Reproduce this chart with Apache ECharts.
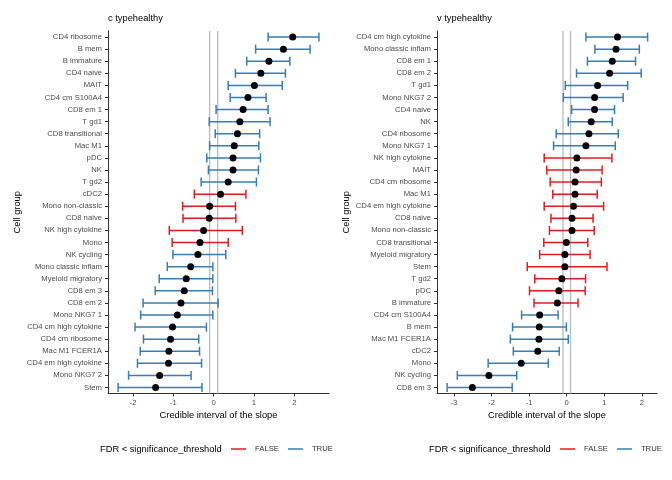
<!DOCTYPE html>
<html>
<head>
<meta charset="utf-8">
<script src="https://cdn.jsdelivr.net/npm/echarts@6/dist/echarts.min.js"></script>
<style>html,body{margin:0;padding:0;background:#fff}#chart{width:672px;height:480px}</style>
</head>
<body>
<div id="chart"></div>
<script>
// ---- Panel "c typehealthy" ----
const catsC = ["CD4 ribosome","B mem","B immature","CD4 naive","MAIT","CD4 cm S100A4","CD8 em 1","T gd1","CD8 transitional","Mac M1","pDC","NK","T gd2","cDC2","Mono non-classic","CD8 naive","NK high cytokine","Mono","NK cycling","Mono classic inflam","Myeloid migratory","CD8 em 3","CD8 em 2","Mono NKG7 1","CD4 cm high cytokine","CD4 cm ribosome","Mac M1 FCER1A","CD4 em high cytokine","Mono NKG7 2","Stem"];
const lowC  = [1.35,1.04,0.82,0.54,0.36,0.41,0.06,-0.11,0.04,-0.10,-0.17,-0.13,-0.31,-0.48,-0.77,-0.76,-1.10,-1.03,-1.01,-1.15,-1.35,-1.45,-1.75,-1.81,-1.95,-1.74,-1.82,-1.89,-2.11,-2.37];
const midC  = [1.96,1.73,1.37,1.17,1.01,0.85,0.73,0.65,0.59,0.51,0.48,0.48,0.36,0.17,-0.10,-0.11,-0.25,-0.34,-0.39,-0.57,-0.68,-0.73,-0.81,-0.90,-1.02,-1.07,-1.11,-1.12,-1.34,-1.44];
const highC = [2.61,2.39,1.89,1.78,1.70,1.30,1.35,1.40,1.14,1.12,1.16,1.11,1.06,0.80,0.54,0.55,0.71,0.36,0.30,-0.02,-0.02,-0.03,0.11,-0.02,-0.18,-0.37,-0.35,-0.30,-0.56,-0.29];
const sigC  = [true,true,true,true,true,true,true,true,true,true,true,true,true,false,false,false,false,false,true,true,true,true,true,true,true,true,true,true,true,true];

// ---- Panel "v typehealthy" ----
const catsV = ["CD4 cm high cytokine","Mono classic inflam","CD8 em 1","CD8 em 2","T gd1","Mono NKG7 2","CD4 naive","NK","CD4 ribosome","Mono NKG7 1","NK high cytokine","MAIT","CD4 cm ribosome","Mac M1","CD4 em high cytokine","CD8 naive","Mono non-classic","CD8 transitional","Myeloid migratory","Stem","T gd2","pDC","B immature","CD4 cm S100A4","B mem","Mac M1 FCER1A","cDC2","Mono","NK cycling","CD8 em 3"];
const lowV  = [0.51,0.75,0.55,0.26,-0.04,-0.09,0.13,0.04,-0.28,-0.35,-0.60,-0.53,-0.44,-0.37,-0.60,-0.42,-0.46,-0.61,-0.72,-1.05,-0.85,-0.99,-0.87,-1.20,-1.44,-1.50,-1.42,-2.09,-2.91,-3.18];
const midV  = [1.35,1.31,1.21,1.14,0.82,0.74,0.74,0.65,0.59,0.51,0.27,0.25,0.22,0.22,0.18,0.14,0.14,-0.01,-0.05,-0.05,-0.13,-0.21,-0.25,-0.72,-0.73,-0.74,-0.77,-1.21,-2.07,-2.51];
const highV = [2.15,1.93,1.83,1.98,1.62,1.50,1.27,1.21,1.37,1.29,1.20,0.94,0.92,0.81,0.98,0.70,0.73,0.56,0.62,1.07,0.50,0.49,0.30,-0.23,-0.01,0.04,-0.20,-0.49,-1.33,-1.45];
const sigV  = [true,true,true,true,true,true,true,true,true,true,false,false,false,false,false,false,false,false,false,false,false,false,false,true,true,true,true,true,true,true];

const refLines = [-0.1, 0.1];
const xTicksC = [-2,-1,0,1,2];
const xTicksV = [-3,-2,-1,0,1,2];

const RED = '#E41A1C', BLUE = '#377EB8', REF = '#BEBEBE';
const TICK_COLOR = '#4D4D4D';
const FONT = 'Liberation Sans, Arial, sans-serif';

function errRender(color) {
  return function (params, api) {
    const y = api.value(2);
    const a = api.coord([api.value(0), y]);
    const b = api.coord([api.value(1), y]);
    const h = 4.5;
    const st = { stroke: color, lineWidth: 1.5, fill: null };
    return { type: 'group', children: [
      { type: 'line', shape: { x1: a[0], y1: a[1], x2: b[0], y2: b[1] }, style: st },
      { type: 'line', shape: { x1: a[0], y1: a[1]-h, x2: a[0], y2: a[1]+h }, style: st },
      { type: 'line', shape: { x1: b[0], y1: b[1]-h, x2: b[0], y2: b[1]+h }, style: st }
    ]};
  };
}
function refRender(params, api) {
  const cs = params.coordSys;
  const x = api.coord([api.value(0), 0])[0];
  return { type: 'rect', shape: { x: x - 0.7, y: cs.y, width: 1.4, height: cs.height },
           style: { fill: REF, stroke: null } };
}

function panelSeries(idx, low, mid, high, sig) {
  const f = [], t = [], pts = [];
  for (let i = 0; i < low.length; i++) {
    (sig[i] ? t : f).push([low[i], high[i], i]);
    pts.push([mid[i], i]);
  }
  return [
    { type: 'custom', name: 'ref', xAxisIndex: idx, yAxisIndex: idx, renderItem: refRender,
      itemStyle: { color: REF }, data: refLines.map(v => [v]), encode: { x: 0 }, z: 1, silent: true },
    { type: 'custom', name: 'FALSE', xAxisIndex: idx, yAxisIndex: idx, renderItem: errRender(RED),
      itemStyle: { color: RED }, data: f, encode: { x: [0, 1], y: 2 }, z: 2 },
    { type: 'custom', name: 'TRUE', xAxisIndex: idx, yAxisIndex: idx, renderItem: errRender(BLUE),
      itemStyle: { color: BLUE }, data: t, encode: { x: [0, 1], y: 2 }, z: 2 },
    { type: 'scatter', name: 'pts', xAxisIndex: idx, yAxisIndex: idx, data: pts,
      symbolSize: 7, itemStyle: { color: '#000', opacity: 1 }, z: 3, silent: true }
  ];
}

function xAxis(idx, min, max, ticks) {
  return {
    type: 'value', gridIndex: idx, min: min, max: max,
    splitLine: { show: false },
    axisLine: { show: true, onZero: false, lineStyle: { color: '#333', width: 1 } },
    axisTick: { show: true, length: 3, customValues: ticks, lineStyle: { color: '#333' } },
    axisLabel: { customValues: ticks, color: TICK_COLOR, fontSize: 7.7, fontFamily: FONT, margin: 5 },
    name: 'Credible interval of the slope', nameLocation: 'middle', nameGap: 12,
    nameTextStyle: { color: '#000', fontSize: 9.3, fontFamily: FONT }
  };
}
function yAxis(idx, cats) {
  return {
    type: 'category', gridIndex: idx, data: cats, inverse: true,
    axisLine: { show: true, onZero: false, lineStyle: { color: '#333', width: 1 } },
    axisTick: { show: true, length: 3, alignWithLabel: true, lineStyle: { color: '#333' } },
    axisLabel: { color: TICK_COLOR, fontSize: 7.7, fontFamily: FONT, margin: 6, interval: 0 },
    splitLine: { show: false },
    name: 'Cell group', nameLocation: 'middle', nameGap: 86, nameRotate: 90,
    nameTextStyle: { color: '#000', fontSize: 9.3, fontFamily: FONT }
  };
}
function legend(left) {
  return {
    left: left, top: 445, orient: 'horizontal', padding: 0,
    itemWidth: 15, itemHeight: 1.5, itemGap: 9, icon: 'rect',
    selectedMode: false,
    data: [{ name: 'FALSE', itemStyle: { color: RED } }, { name: 'TRUE', itemStyle: { color: BLUE } }],
    textStyle: { color: '#333', fontSize: 7.7, fontFamily: FONT, padding: [0, 0, 0, 4] }
  };
}

const chart = echarts.init(document.getElementById('chart'), null, { renderer: 'canvas' });
chart.setOption({
  animation: false,
  backgroundColor: '#fff',
  title: [
    { text: 'c typehealthy', left: 108, top: 14, padding: 0,
      textStyle: { fontSize: 9.3, fontWeight: 'normal', color: '#000', fontFamily: FONT } },
    { text: 'v typehealthy', left: 437, top: 14, padding: 0,
      textStyle: { fontSize: 9.3, fontWeight: 'normal', color: '#000', fontFamily: FONT } }
  ],
  grid: [
    { left: 108, top: 31, width: 221, height: 362.5 },
    { left: 437, top: 31, width: 220, height: 362.5 }
  ],
  xAxis: [ xAxis(0, -2.62, 2.86, xTicksC), xAxis(1, -3.45, 2.40, xTicksV) ],
  yAxis: [ yAxis(0, catsC), yAxis(1, catsV) ],
  legend: [ legend(231), legend(560) ],
  graphic: [
    { type: 'text', left: 100, top: 445, style: { text: 'FDR < significance_threshold', fill: '#000', fontSize: 9.3, fontFamily: FONT } },
    { type: 'text', left: 429, top: 445, style: { text: 'FDR < significance_threshold', fill: '#000', fontSize: 9.3, fontFamily: FONT } }
  ],
  series: [].concat(
    panelSeries(0, lowC, midC, highC, sigC),
    panelSeries(1, lowV, midV, highV, sigV)
  )
});
</script>
</body>
</html>
